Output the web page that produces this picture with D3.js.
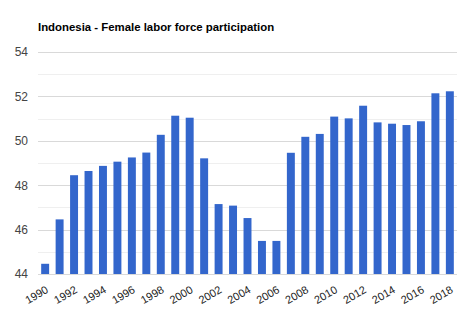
<!DOCTYPE html>
<html>
<head>
<meta charset="utf-8">
<script src="https://cdn.jsdelivr.net/npm/d3@7"></script>
<style>
  html, body { margin: 0; padding: 0; background: #fff; }
  svg { display: block; font-family: Arial, "Liberation Sans", sans-serif; }
</style>
</head>
<body>
<svg id="chart" width="474" height="322"></svg>
<script>
// Female labor force participation rate (%), Indonesia
const years = [1990, 1991, 1992, 1993, 1994, 1995, 1996, 1997, 1998, 1999,
               2000, 2001, 2002, 2003, 2004, 2005, 2006, 2007, 2008, 2009,
               2010, 2011, 2012, 2013, 2014, 2015, 2016, 2017, 2018];
const rates = [44.46, 46.46, 48.45, 48.64, 48.87, 49.06, 49.25, 49.47, 50.27, 51.13,
               51.04, 49.21, 47.15, 47.08, 46.52, 45.49, 45.49, 49.46, 50.18, 50.31,
               51.09, 51.01, 51.58, 50.83, 50.77, 50.71, 50.88, 52.14, 52.23];
const majorTicks = [44, 46, 48, 50, 52, 54];
const minorTicks = [45, 47, 49, 51, 53];
const yearLabels = [1990, 1992, 1994, 1996, 1998, 2000, 2002, 2004, 2006, 2008,
                    2010, 2012, 2014, 2016, 2018];
const title = "Indonesia - Female labor force participation";

const svg = d3.select("#chart");
const margin = { left: 38, right: 17, top: 52, bottom: 48 };
const W = 474, H = 322;

const x = d3.scaleBand()
  .domain(years)
  .range([margin.left, W - margin.right])
  .paddingInner(0.45)
  .paddingOuter(0.22);

const y = d3.scaleLinear()
  .domain([44, 54])
  .range([H - margin.bottom, margin.top]);

// title
svg.append("text")
  .attr("x", 38)
  .attr("y", 31)
  .attr("font-size", 11.4)
  .attr("font-weight", "bold")
  .attr("fill", "#000")
  .text(title);

// minor gridlines
svg.append("g")
  .selectAll("line")
  .data(minorTicks)
  .join("line")
  .attr("x1", margin.left).attr("x2", W - margin.right)
  .attr("y1", d => Math.round(y(d)) + 0.5).attr("y2", d => Math.round(y(d)) + 0.5)
  .attr("stroke", "#efefef");

// major gridlines
svg.append("g")
  .selectAll("line")
  .data(majorTicks)
  .join("line")
  .attr("x1", margin.left).attr("x2", W - margin.right)
  .attr("y1", d => Math.round(y(d)) + 0.5).attr("y2", d => Math.round(y(d)) + 0.5)
  .attr("stroke", "#d9d9d9");

// y axis labels
const yAxis = d3.axisLeft(y).tickValues(majorTicks).tickSize(0).tickPadding(10);
svg.append("g")
  .attr("transform", `translate(${margin.left},0)`)
  .call(yAxis)
  .call(g => g.select(".domain").remove())
  .call(g => g.selectAll("text")
    .attr("font-size", 12)
    .attr("fill", "#444")
    .attr("font-family", "Arial, 'Liberation Sans', sans-serif"));

// bars
svg.append("g")
  .selectAll("rect")
  .data(years.map((yr, i) => ({ yr, v: rates[i] })))
  .join("rect")
  .attr("x", d => x(d.yr))
  .attr("width", x.bandwidth())
  .attr("y", d => y(d.v))
  .attr("height", d => y(44) - y(d.v))
  .attr("fill", "#3366cc");

// x axis labels, every other year, rotated
const xAxis = d3.axisBottom(x).tickValues(yearLabels).tickSize(0).tickPadding(0);
svg.append("g")
  .attr("transform", `translate(0,${y(44)})`)
  .call(xAxis)
  .call(g => g.select(".domain").remove())
  .call(g => g.selectAll("text")
    .attr("font-size", 11)
    .attr("fill", "#222")
    .attr("font-family", "Arial, 'Liberation Sans', sans-serif")
    .attr("text-anchor", "end")
    .attr("dy", null)
    .attr("transform", "translate(4,18) rotate(-30)"));
</script>
</body>
</html>
